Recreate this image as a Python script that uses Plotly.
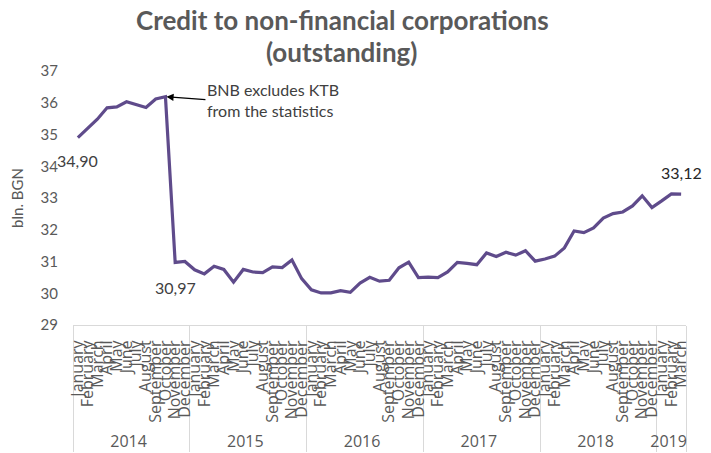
import plotly.graph_objects as go

# Monthly outstanding credit to non-financial corporations, bln. BGN
month_names = ["January", "February", "March", "April", "May", "June", "July",
               "August", "September", "October", "November", "December"]
years = ["2014"] * 12 + ["2015"] * 12 + ["2016"] * 12 + ["2017"] * 12 + ["2018"] * 12 + ["2019"] * 3
months = month_names * 5 + month_names[:3]

credit = [
    34.90, 35.19, 35.48, 35.84, 35.87, 36.03, 35.95, 35.85, 36.12, 36.19, 30.97, 31.00,  # 2014
    30.74, 30.61, 30.85, 30.75, 30.35, 30.75, 30.67, 30.65, 30.83, 30.81, 31.05, 30.46,  # 2015
    30.11, 30.01, 30.01, 30.08, 30.03, 30.32, 30.50, 30.38, 30.41, 30.80, 30.98, 30.49,  # 2016
    30.51, 30.49, 30.67, 30.97, 30.94, 30.90, 31.27, 31.16, 31.29, 31.20, 31.34, 31.01,  # 2017
    31.08, 31.17, 31.43, 31.96, 31.91, 32.06, 32.37, 32.51, 32.56, 32.75, 33.07, 32.70,  # 2018
    32.91, 33.13, 33.12,                                                                  # 2019
]

title_lines = ["Credit to non-financial corporations", "(outstanding)"]

# points that carry a value label: (index, vertical shift in px)
labelled = [(0, -23), (10, -25), (62, 22)]
event_index = 9  # October 2014, last month before the series break

FONT = "Lato"
GREY = "#595959"
LINE = "#5F4B8B"

fig = go.Figure()
fig.add_trace(go.Scatter(
    x=[years, months],
    y=credit,
    mode="lines",
    line=dict(color=LINE, width=3.2),
    hoverinfo="y",
))

for idx, shift in labelled:
    fig.add_annotation(
        x=idx, y=credit[idx], xref="x", yref="y",
        text=f"{credit[idx]:.2f}".replace(".", ","),
        showarrow=False, yshift=shift,
        font=dict(family=FONT, size=16, color="#404040" if idx != 62 else "#262626"),
    )

fig.add_annotation(
    x=event_index, y=credit[event_index], xref="x", yref="y",
    text="BNB excludes KTB<br>from the statistics",
    showarrow=True, arrowhead=2, arrowsize=1.1, arrowwidth=1.3, arrowcolor="#000000",
    ax=40, ay=3, xanchor="left", yanchor="middle", align="left",
    standoff=1,
    font=dict(family=FONT, size=16, color="#404040"),
)

# two-line chart title, placed above the plotting area
for text, y in zip(title_lines, [1.201, 1.075]):
    fig.add_annotation(
        x=0.439, y=y, xref="paper", yref="paper",
        xanchor="center", yanchor="middle", showarrow=False,
        text=f"<b>{text}</b>",
        font=dict(family=FONT, size=26, color=GREY),
    )

fig.update_layout(
    width=711, height=453,
    margin=dict(l=73, r=25, t=71, b=128),
    paper_bgcolor="white", plot_bgcolor="white",
    showlegend=False,
    font=dict(family=FONT, size=15, color=GREY),
    xaxis=dict(
        type="multicategory",
        automargin=False,
        range=[-0.5, len(credit) - 0.5],
        tickmode="linear", tick0=0, dtick=1,
        tickangle=-90,
        tickfont=dict(family="Open Sans", size=16, color=GREY),
        ticklabelstandoff=8,
        showgrid=False, zeroline=False,
        showline=True, linecolor="#D9D9D9", linewidth=1,
        ticks="",
        showdividers=True, dividercolor="#D9D9D9", dividerwidth=1,
    ),
    yaxis=dict(
        automargin=False,
        range=[29, 37], dtick=1, tick0=29,
        showgrid=False, zeroline=False, showline=False,
        ticks="", ticklabelstandoff=14,
        tickfont=dict(family=FONT, size=15, color=GREY),
        title=dict(text="bln. BGN", font=dict(family=FONT, size=15, color=GREY), standoff=13),
    ),
)

fig.write_html("out.html")
